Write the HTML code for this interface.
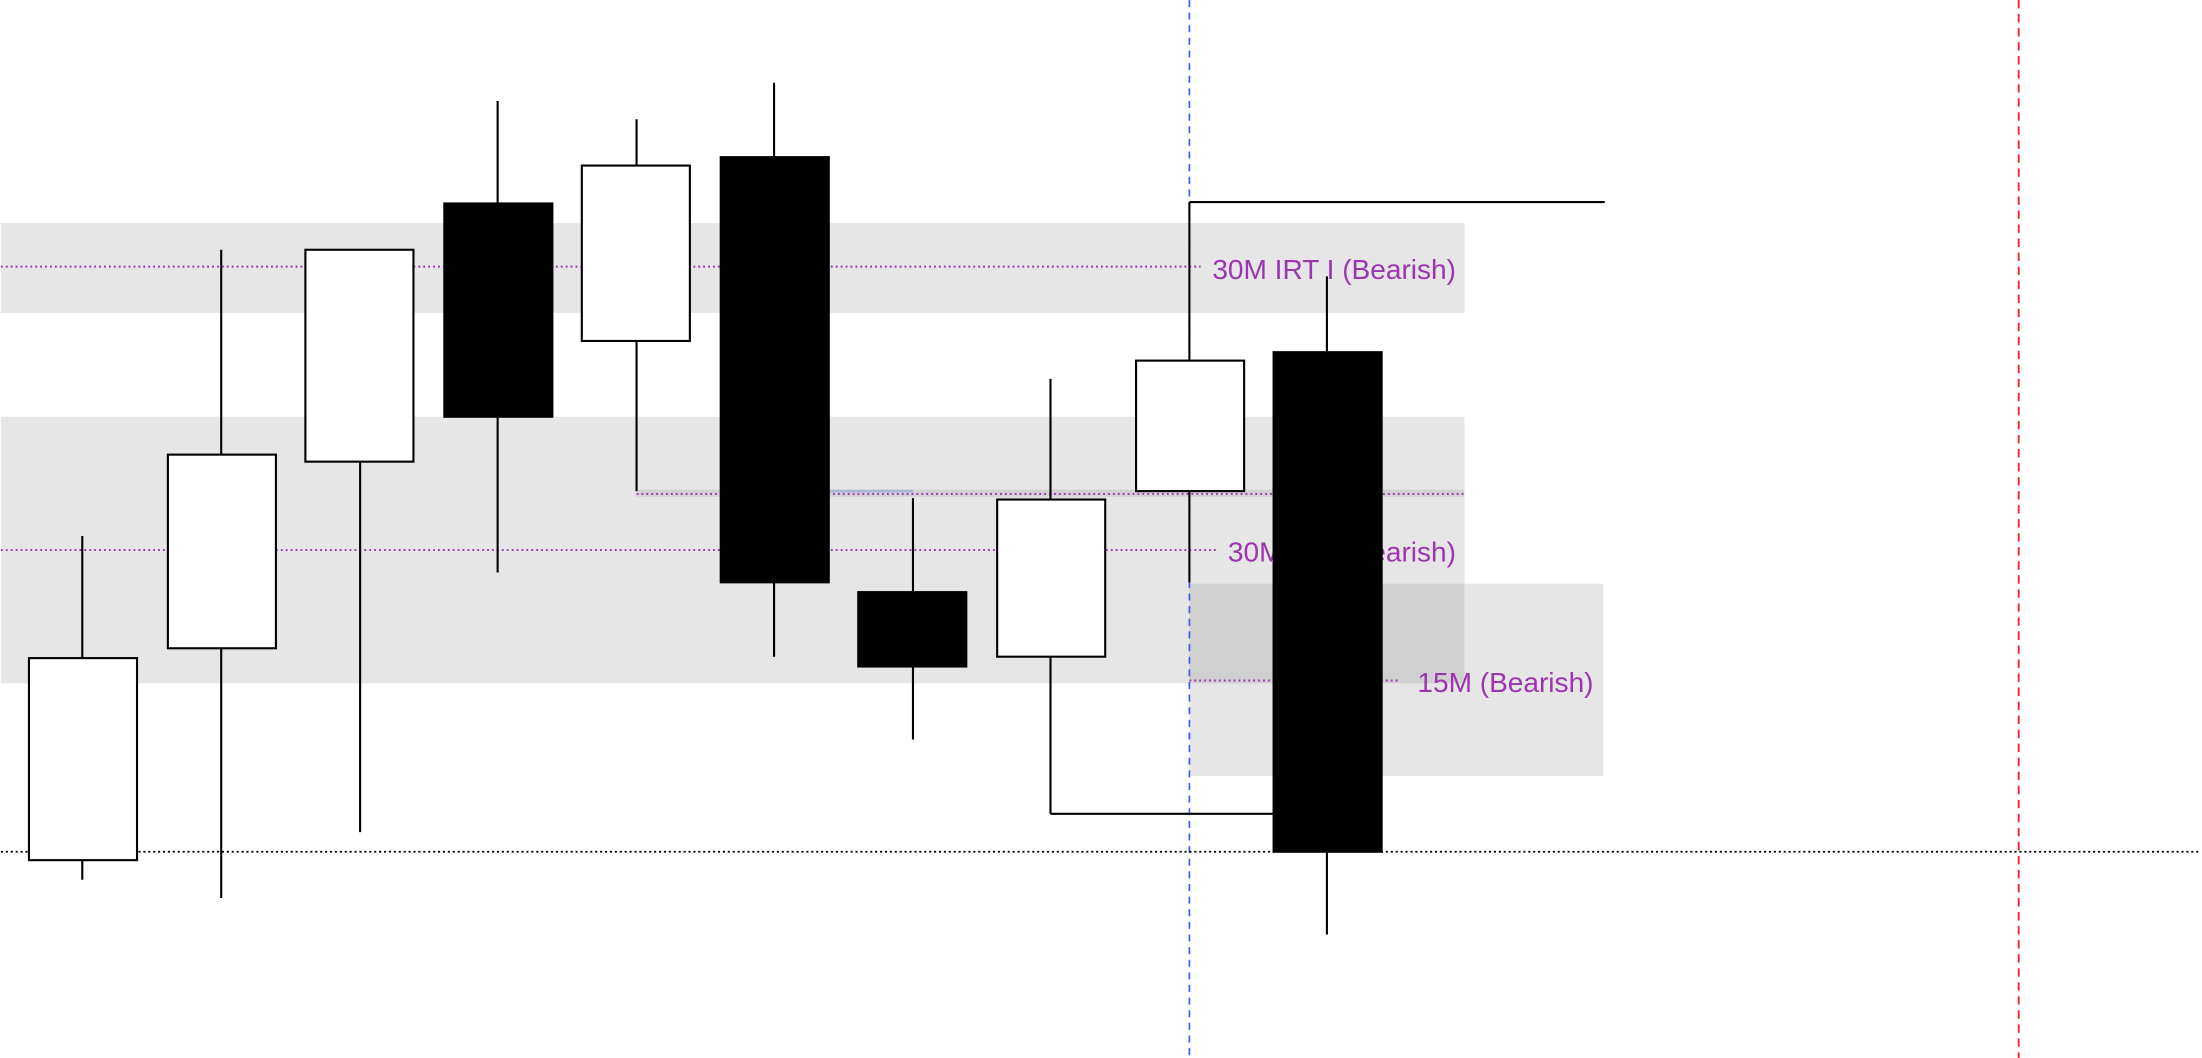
<!DOCTYPE html>
<html><head><meta charset="utf-8"><style>html,body{margin:0;padding:0;background:#fff;width:2202px;height:1058px;overflow:hidden}svg{display:block}</style></head><body>
<svg width="2202" height="1058" viewBox="0 0 1568 754" xmlns="http://www.w3.org/2000/svg">
<rect width="1568" height="754" fill="#fff"/>
<rect x="0" y="159" width="1043" height="64" fill="#e6e6e6"/>
<rect x="0" y="297" width="1043" height="190" fill="#e6e6e6"/>
<rect x="847" y="416" width="295" height="137" fill="#e6e6e6"/>
<rect x="847" y="416" width="196" height="71" fill="#d0d0d0"/>
<rect x="453" y="349" width="590" height="5" fill="#d2d2d2"/>
<rect x="590" y="349" width="60" height="2" fill="#a8b6d4"/>
<line x1="847" y1="0" x2="847" y2="754" stroke="#3a5fe0" stroke-width="1.2" stroke-dasharray="5,4"/>
<line x1="1438" y1="0" x2="1438" y2="754" stroke="#f02030" stroke-width="1.3" stroke-dasharray="6,4"/>
<line x1="0" y1="607" x2="1568" y2="607" stroke="#000" stroke-width="1.3" stroke-dasharray="1.5,2"/>
<g stroke="#9b2fb5" stroke-width="1.4" stroke-dasharray="1.3,2.2">
<line x1="0" y1="190" x2="855" y2="190"/>
<line x1="0" y1="392" x2="866" y2="392"/>
<line x1="453" y1="352" x2="1043" y2="352"/>
<line x1="847" y1="485" x2="997" y2="485"/>
</g>
<g font-family="Liberation Sans, sans-serif" font-size="20" fill="#9b35b0" text-anchor="end">
<text x="1037" y="199">30M IRT I (Bearish)</text>
<text x="1037" y="400">30M IRT (Bearish)</text>
<text x="1135" y="493">15M (Bearish)</text>
</g>
<g stroke="#000" stroke-width="1.5" fill="none">
<line x1="58" y1="382" x2="58" y2="627"/>
<line x1="157" y1="178" x2="157" y2="640"/>
<line x1="256" y1="329" x2="256" y2="593"/>
<line x1="354" y1="72" x2="354" y2="408"/>
<line x1="453" y1="85" x2="453" y2="350"/>
<line x1="551" y1="59" x2="551" y2="468"/>
<line x1="650" y1="355" x2="650" y2="527"/>
<line x1="748" y1="270" x2="748" y2="580"/>
<line x1="748" y1="580" x2="908" y2="580"/>
<line x1="847" y1="144" x2="847" y2="415"/>
<line x1="847" y1="144" x2="1143" y2="144"/>
<line x1="945" y1="197" x2="945" y2="666"/>
</g>
<g stroke="#000" stroke-width="1.5">
<rect x="20" y="469" width="77" height="144" fill="#fff"/>
<rect x="119" y="324" width="77" height="138" fill="#fff"/>
<rect x="217" y="178" width="77" height="151" fill="#fff"/>
<rect x="316" y="145" width="77" height="152" fill="#000"/>
<rect x="414" y="118" width="77" height="125" fill="#fff"/>
<rect x="513" y="112" width="77" height="303" fill="#000"/>
<rect x="611" y="422" width="77" height="53" fill="#000"/>
<rect x="710" y="356" width="77" height="112" fill="#fff"/>
<rect x="809" y="257" width="77" height="93" fill="#fff"/>
<rect x="907" y="251" width="77" height="356" fill="#000"/>
</g>
</svg>
</body></html>
